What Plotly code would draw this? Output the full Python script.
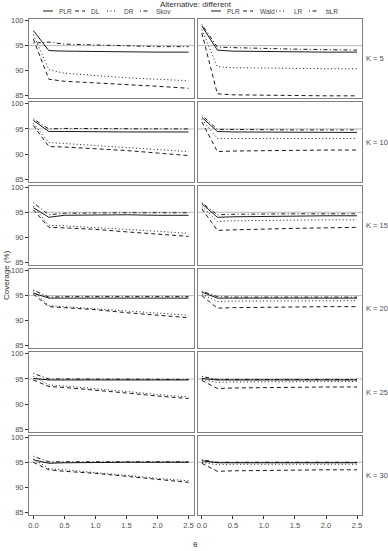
import plotly.graph_objects as go
from plotly.subplots import make_subplots

# ---------------- data ----------------
theta = [0, 0.25, 0.5, 1.0, 1.5, 2.0, 2.5]
K_values = [5, 10, 15, 20, 25, 30]
REF = 95

left_methods = ["PLR", "DL", "DR", "Skov"]
right_methods = ["PLR", "Wald", "LR", "bLR"]

# left column (heterogeneity estimators)
left_PLR = [
    [98.0, 94.0, 93.9, 93.8, 93.8, 93.7, 93.7],
    [96.7, 94.5, 94.5, 94.4, 94.4, 94.4, 94.4],
    [95.9, 94.0, 94.4, 94.5, 94.5, 94.4, 94.4],
    [95.5, 94.5, 94.5, 94.5, 94.5, 94.5, 94.5],
    [95.1, 94.8, 94.8, 94.8, 94.8, 94.8, 94.8],
    [95.5, 94.8, 94.9, 95.0, 95.0, 95.0, 95.0],
]
left_DL = [
    [96.3, 88.3, 87.9, 87.6, 87.2, 86.9, 86.5],
    [95.7, 91.5, 91.4, 91.1, 90.7, 90.2, 89.7],
    [95.5, 92.0, 91.9, 91.6, 91.1, 90.7, 90.2],
    [95.3, 92.8, 92.6, 92.2, 91.6, 91.1, 90.6],
    [94.8, 93.5, 93.3, 92.8, 92.2, 91.6, 91.1],
    [95.0, 93.5, 93.2, 92.8, 92.2, 91.6, 91.0],
]
left_DR = [
    [97.2, 90.2, 89.5, 89.0, 88.6, 88.3, 88.0],
    [96.1, 92.3, 92.1, 91.7, 91.3, 90.9, 90.5],
    [96.2, 92.4, 92.3, 92.0, 91.6, 91.2, 90.8],
    [95.9, 93.0, 92.8, 92.4, 91.9, 91.5, 91.1],
    [95.5, 93.8, 93.6, 93.1, 92.5, 91.9, 91.4],
    [95.7, 93.7, 93.5, 93.0, 92.4, 91.8, 91.3],
]
left_Skov = [
    [95.5, 95.7, 95.3, 95.1, 94.9, 94.8, 94.8],
    [97.0, 95.0, 95.1, 95.1, 95.1, 95.0, 95.0],
    [96.9, 94.5, 94.8, 94.9, 94.9, 94.9, 94.9],
    [96.1, 94.7, 94.8, 94.8, 94.8, 94.8, 94.8],
    [96.1, 95.0, 95.0, 95.0, 94.9, 94.9, 94.9],
    [96.2, 95.1, 95.1, 95.1, 95.1, 95.1, 95.1],
]

# right column (test statistics)
right_PLR = [
    [98.9, 94.1, 93.9, 93.8, 93.8, 93.7, 93.7],
    [97.3, 94.5, 94.4, 94.4, 94.3, 94.3, 94.3],
    [96.7, 94.0, 94.1, 94.2, 94.3, 94.3, 94.3],
    [95.7, 94.5, 94.5, 94.5, 94.5, 94.5, 94.5],
    [95.1, 94.8, 94.8, 94.8, 94.8, 94.8, 94.8],
    [95.3, 94.9, 94.9, 94.9, 94.9, 94.9, 94.9],
]
right_Wald = [
    [97.5, 85.4, 85.2, 85.1, 85.0, 85.0, 85.0],
    [96.4, 90.5, 90.6, 90.7, 90.7, 90.8, 90.8],
    [95.7, 91.4, 91.5, 91.7, 91.8, 91.9, 92.0],
    [95.0, 92.5, 92.6, 92.7, 92.7, 92.8, 92.8],
    [94.7, 93.1, 93.2, 93.3, 93.3, 93.4, 93.4],
    [94.8, 93.2, 93.3, 93.4, 93.5, 93.5, 93.5],
]
right_LR = [
    [98.2, 90.8, 90.6, 90.5, 90.5, 90.4, 90.4],
    [96.9, 93.1, 93.1, 93.1, 93.1, 93.1, 93.1],
    [96.2, 93.2, 93.3, 93.4, 93.4, 93.5, 93.5],
    [95.3, 93.8, 93.9, 93.9, 94.0, 94.0, 94.0],
    [94.9, 94.3, 94.4, 94.4, 94.5, 94.5, 94.5],
    [95.0, 94.5, 94.6, 94.6, 94.6, 94.6, 94.6],
]
right_bLR = [
    [99.2, 94.7, 94.6, 94.4, 94.3, 94.2, 94.1],
    [97.7, 94.9, 94.9, 94.8, 94.8, 94.8, 94.8],
    [96.9, 94.5, 94.6, 94.7, 94.7, 94.7, 94.7],
    [95.9, 94.8, 94.7, 94.7, 94.7, 94.7, 94.7],
    [95.5, 94.9, 94.9, 94.9, 94.9, 94.9, 94.9],
    [95.5, 95.0, 95.0, 95.0, 95.0, 95.0, 95.0],
]

x_ticks = [0.0, 0.5, 1.0, 1.5, 2.0, 2.5]
x_ticklabels = ["0.0", "0.5", "1.0", "1.5", "2.0", "2.5"]
y_ticks = [85, 90, 95, 100]

left_data = [left_PLR, left_DL, left_DR, left_Skov]
right_data = [right_PLR, right_Wald, right_LR, right_bLR]

# ---------------- style ----------------
dashes = ["solid", "4px,3px", "1px,2.5px", "1px,2.5px,4px,2.5px"]
FONT = "Liberation Sans, Arial, sans-serif"
TXT = "#4d4d4d"
BORDER = "#808080"

W, H = 388, 551
ML, MR, MT, MB = 29, 26, 19, 36
PW, PH = W - ML - MR, H - MT - MB

fig = make_subplots(rows=6, cols=2,
                    horizontal_spacing=4 / PW,
                    vertical_spacing=4 / PH)

for r in range(6):
    for c, data in enumerate([left_data, right_data]):
        for m in range(4):
            fig.add_trace(go.Scatter(
                x=theta, y=data[m][r], mode="lines",
                line=dict(color="black", width=0.9, dash=dashes[m]),
                showlegend=False, hoverinfo="skip"),
                row=r + 1, col=c + 1)
        fig.add_hline(y=REF, line=dict(color="#a6a6a6", width=0.8),
                      row=r + 1, col=c + 1, layer="below")

for r in range(6):
    for c in range(2):
        fig.update_xaxes(range=[-0.07, 2.58], tickvals=x_ticks,
                         ticktext=x_ticklabels,
                         showticklabels=(r == 5),
                         ticks="outside" if r == 5 else "",
                         ticklen=3, tickcolor="#333333", tickwidth=0.8,
                         showgrid=False, zeroline=False,
                         showline=True, mirror=True, linecolor=BORDER,
                         linewidth=1,
                         tickfont=dict(size=7.5, color=TXT, family=FONT),
                         row=r + 1, col=c + 1)
        fig.update_yaxes(range=[84.5, 100.3], tickvals=y_ticks,
                         showticklabels=(c == 0),
                         ticks="outside" if c == 0 else "",
                         ticklen=3, tickcolor="#333333", tickwidth=0.8,
                         showgrid=False, zeroline=False,
                         showline=True, mirror=True, linecolor=BORDER,
                         linewidth=1,
                         tickfont=dict(size=7.5, color=TXT, family=FONT),
                         row=r + 1, col=c + 1)

annotations = []
shapes = []

def px2x(px):
    return (px - ML) / PW

def py2y(py):
    return 1 + (MT - py) / PH

# facet labels on right
for r, K in enumerate(K_values):
    yax = fig.layout["yaxis" + ("" if r == 0 else str(2 * r + 1))]
    d = yax.domain
    annotations.append(dict(text=f"K = {K}", xref="paper", yref="paper",
                            x=px2x(364), y=(d[0] + d[1]) / 2,
                            xanchor="left", yanchor="middle", showarrow=False,
                            font=dict(size=7.5, color=TXT, family=FONT)))

# legends drawn at top of each column
leg_y = py2y(11)
left_pos = [(43, 57), (75, 89), (107, 122), (140, 154)]
right_pos = [(211, 225), (243, 258), (276, 292), (309, 324)]
for names, pos in [(left_methods, left_pos), (right_methods, right_pos)]:
    for m, (name, (lx, tx)) in enumerate(zip(names, pos)):
        shapes.append(dict(type="line", xref="paper", yref="paper",
                           x0=px2x(lx), x1=px2x(lx + 10), y0=leg_y, y1=leg_y,
                           line=dict(color="black", width=0.9, dash=dashes[m])))
        annotations.append(dict(text=name, xref="paper", yref="paper",
                                x=px2x(tx), y=leg_y, xanchor="left",
                                yanchor="middle", showarrow=False,
                                font=dict(size=6.5, color="#444444", family=FONT)))

annotations.append(dict(text="Alternative: different", xref="paper",
                        yref="paper", x=px2x(196), y=py2y(5),
                        xanchor="center", yanchor="middle", showarrow=False,
                        font=dict(size=8, color="#333333", family=FONT)))
annotations.append(dict(text="Coverage (%)", xref="paper", yref="paper",
                        x=px2x(6), y=py2y(275), textangle=-90,
                        xanchor="center", yanchor="middle", showarrow=False,
                        font=dict(size=8, color="#333333", family=FONT)))
annotations.append(dict(text="θ", xref="paper", yref="paper",
                        x=px2x(195), y=py2y(544),
                        xanchor="center", yanchor="middle", showarrow=False,
                        font=dict(size=8, color="#333333", family=FONT)))

fig.update_layout(width=W, height=H,
                  margin=dict(l=ML, r=MR, t=MT, b=MB),
                  paper_bgcolor="white", plot_bgcolor="white",
                  showlegend=False,
                  annotations=list(fig.layout.annotations) + annotations,
                  shapes=list(fig.layout.shapes) + shapes)

fig.write_html("out.html")
